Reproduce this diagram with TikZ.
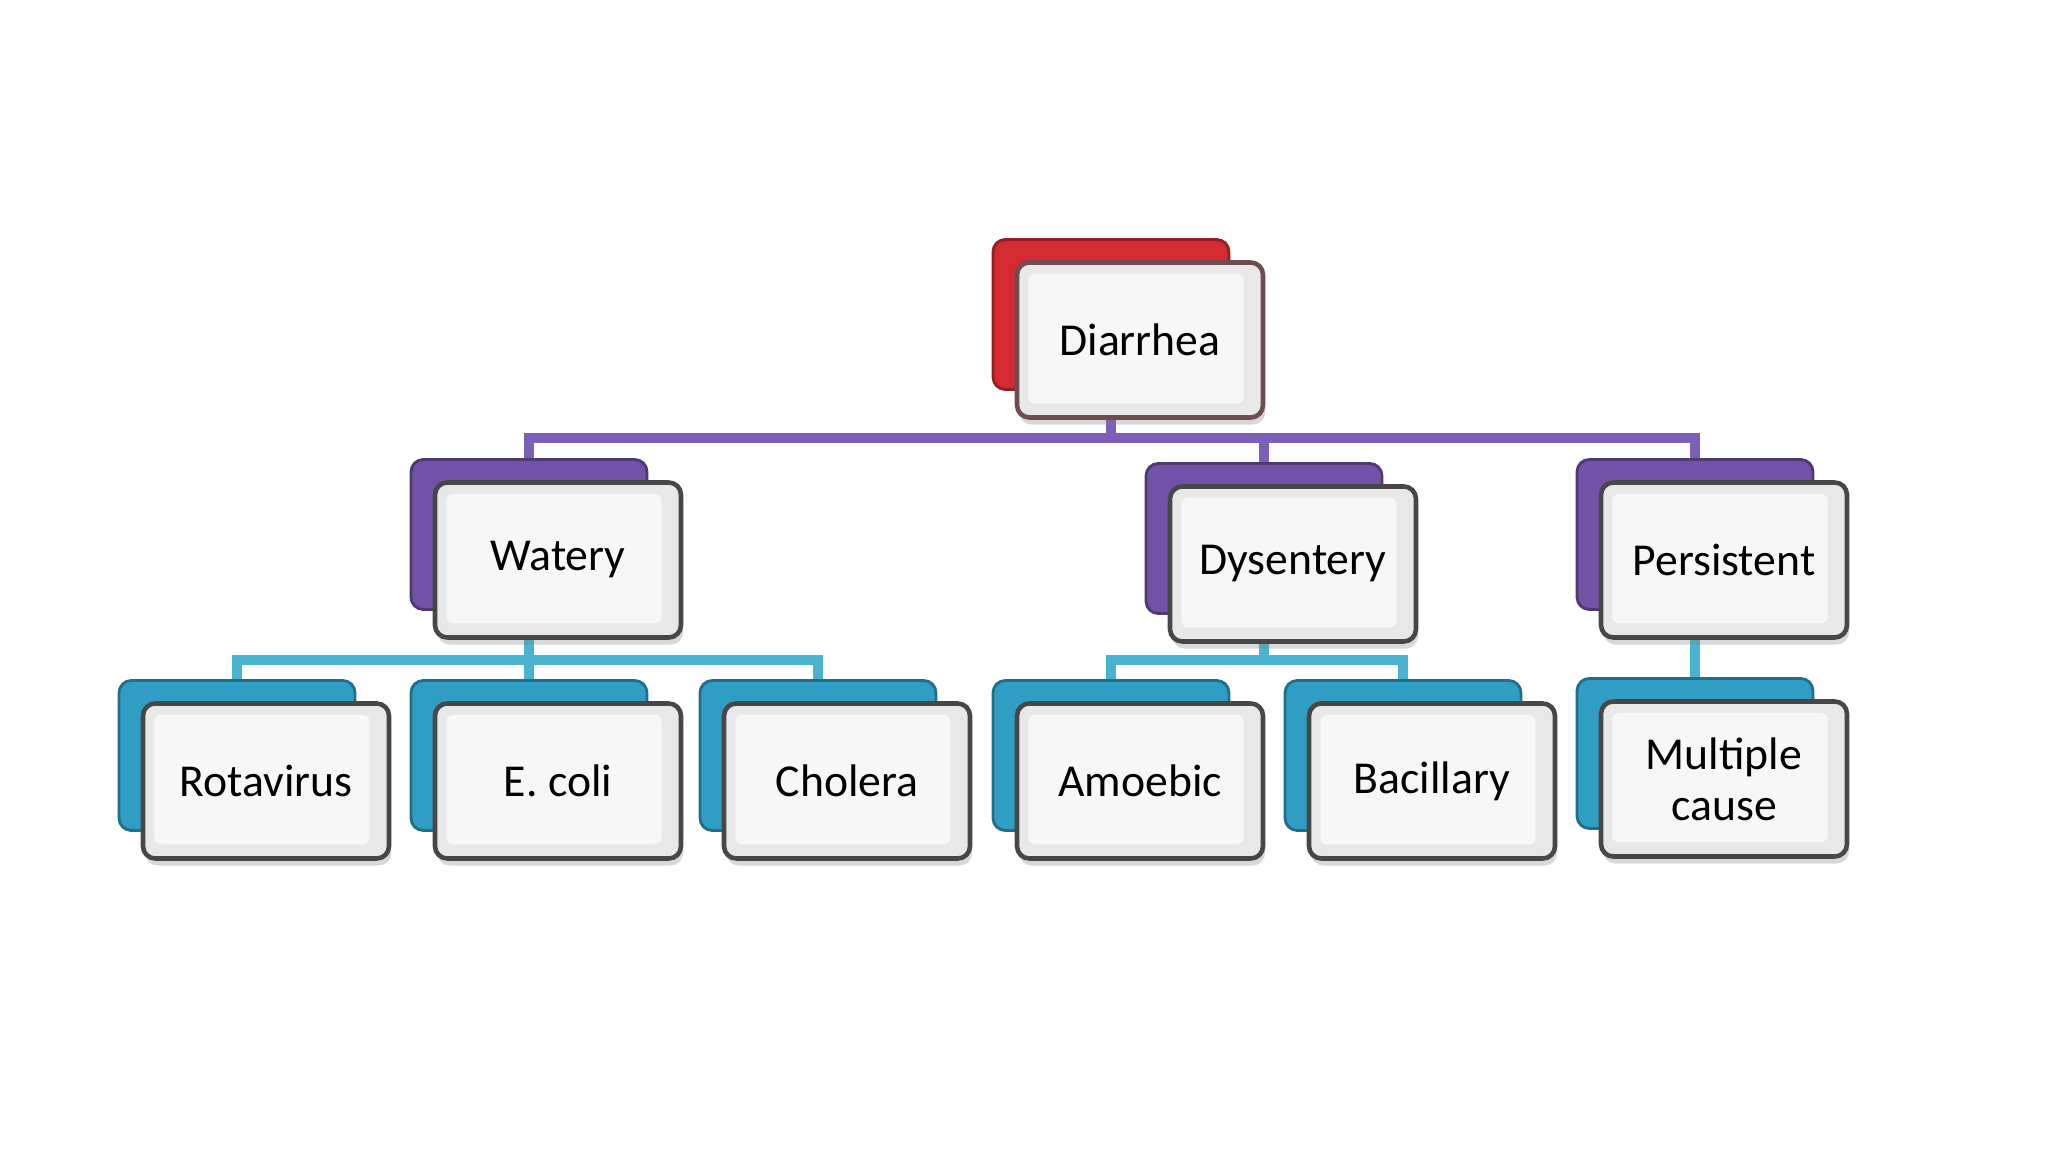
\documentclass[tikz,border=0pt]{standalone}
\usepackage{fontspec}
\setmainfont{Carlito}
\usetikzlibrary{positioning,shadows,calc}

\definecolor{diaRed}{HTML}{D42B33}
\definecolor{diaEdge}{HTML}{6E4C50}
\definecolor{typePurple}{HTML}{7152A6}
\definecolor{causeTeal}{HTML}{2F9DC4}
\definecolor{purpleLine}{HTML}{7D5FB8}
\definecolor{tealLine}{HTML}{4AB3CF}

\tikzset{
  card/.style={draw=black!72, line width=1.3pt, rounded corners=3.5pt, fill=black!9,
    minimum width=24.6mm, minimum height=15.5mm, align=center,
    font=\fontsize{13}{14.5}\selectfont,
    drop shadow={opacity=0.3, shadow xshift=0.6pt, shadow yshift=-2pt},
    path picture={\fill[white!97!black, rounded corners=2pt]
      ([shift={(3.2pt,-3.2pt)}]path picture bounding box.north west) rectangle
      ([shift={(-5.5pt,4pt)}]path picture bounding box.south east);}},
  backcard/.style={draw=#1!70!black, line width=0.8pt, fill=#1, rounded corners=3.5pt,
    minimum width=23.6mm, minimum height=15mm},
  purplelink/.style={draw=purpleLine, line width=2.8pt},
  teallink/.style={draw=tealLine, line width=2.7pt}
}

\begin{document}
\begin{tikzpicture}[x=0.1mm, y=-0.1mm]

\useasboundingbox[fill=white] (0,0) rectangle (2048,1152);

% back cards
\node[backcard=diaRed] (diarrheaB) at (1111,314.5) {};
\node[backcard=typePurple] (wateryB) at (529,534.5) {};
\node[backcard=typePurple] (dysenteryB) at (1264,538.5) {};
\node[backcard=typePurple] (persistentB) at (1695,534.5) {};
\node[backcard=causeTeal] (rotaB) at (237,755.5) {};
\node[backcard=causeTeal] (ecoliB) at (529,755.5) {};
\node[backcard=causeTeal] (choleraB) at (818,755.5) {};
\node[backcard=causeTeal] (amoebicB) at (1111,755.5) {};
\node[backcard=causeTeal] (bacillaryB) at (1403,755.5) {};
\node[backcard=causeTeal] (multipleB) at (1695,753.5) {};

% links
\coordinate (typebar) at (0,438);
\coordinate (causebar) at (0,660);
\draw[purplelink] (diarrheaB.south) -- (diarrheaB.south |- typebar);
\draw[purplelink] (wateryB.north) |- (persistentB.north |- typebar) -- (persistentB.north);
\draw[purplelink] (dysenteryB.north) -- (dysenteryB.north |- typebar);

\draw[teallink] (rotaB.north) |- (choleraB.north |- causebar) -- (choleraB.north);
\draw[teallink] (wateryB.south) -- (ecoliB.north);
\draw[teallink] (amoebicB.north) |- (bacillaryB.north |- causebar) -- (bacillaryB.north);
\draw[teallink] (dysenteryB.south) -- (dysenteryB.south |- causebar);
\draw[teallink] (persistentB.south) -- (multipleB.north);

% front cards
\node[card, draw=diaEdge] (diarrhea) at ([shift={(29,25.5)}]diarrheaB) {Diarrhea};
\node[card] (watery) at ([shift={(29,25.5)}]wateryB) {Watery};
\node[card] (dysentery) at ([shift={(29,25.5)}]dysenteryB) {Dysentery};
\node[card] (persistent) at ([shift={(29,25.5)}]persistentB) {Persistent};
\node[card] (rota) at ([shift={(29,25.5)}]rotaB) {Rotavirus};
\node[card] (ecoli) at ([shift={(29,25.5)}]ecoliB) {E. coli};
\node[card] (cholera) at ([shift={(29,25.5)}]choleraB) {Cholera};
\node[card] (amoebic) at ([shift={(29,25.5)}]amoebicB) {Amoebic};
\node[card] (bacillary) at ([shift={(29,25.5)}]bacillaryB) {Bacillary};
\node[card] (multiple) at ([shift={(29,25.5)}]multipleB) {Multiple\\cause};

\end{tikzpicture}
\end{document}
